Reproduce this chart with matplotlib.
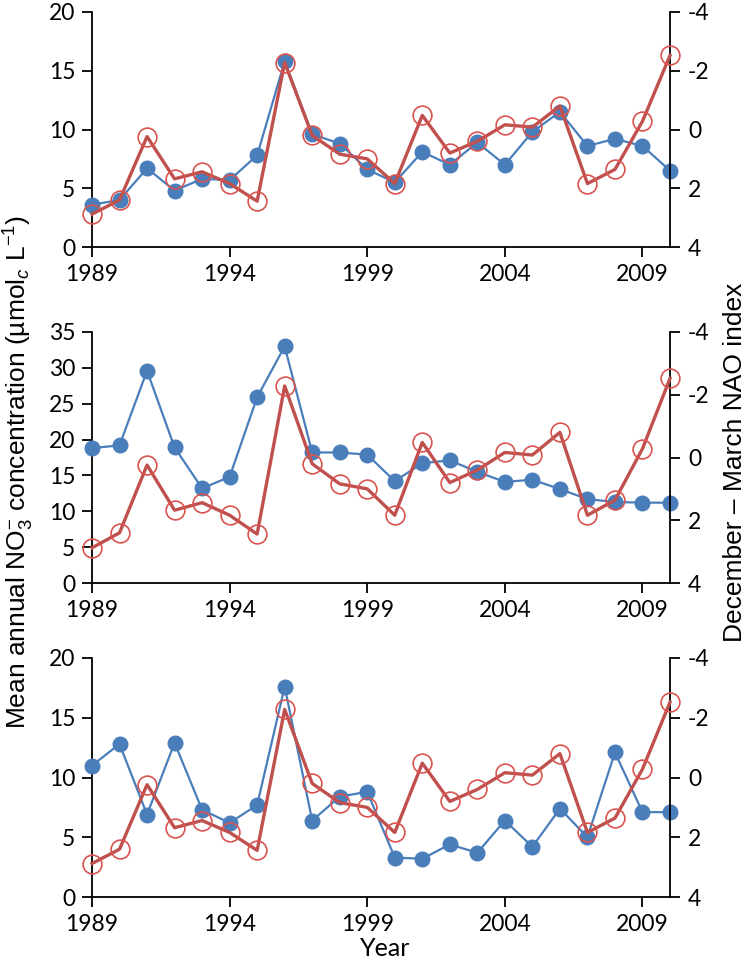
import matplotlib
matplotlib.use("Agg")
import matplotlib.pyplot as plt
from matplotlib.ticker import FixedLocator

plt.rcParams['axes.unicode_minus'] = False
plt.rcParams['mathtext.fontset'] = 'custom'
plt.rcParams['mathtext.rm'] = 'Liberation Sans'
plt.rcParams['mathtext.it'] = 'Liberation Sans:italic'

years = list(range(1989, 2011))

# December-March NAO index (plotted on inverted right axis)
nao = [2.88, 2.40, 0.24, 1.68, 1.44, 1.84, 2.44, -2.28, 0.20, 0.84, 1.00,
       1.84, -0.48, 0.80, 0.40, -0.16, -0.08, -0.80, 1.84, 1.36, -0.28, -2.52]

# Mean annual NO3- concentration for three sites
no3_a = [3.6, 4.0, 6.7, 4.8, 5.8, 5.7, 7.8, 15.8, 9.6, 8.8, 6.6,
         5.5, 8.1, 7.0, 8.9, 7.0, 9.8, 11.5, 8.6, 9.2, 8.6, 6.5]
no3_b = [18.8, 19.2, 29.6, 18.9, 13.2, 14.8, 25.9, 33.0, 18.2, 18.2, 17.9,
         14.2, 16.7, 17.1, 15.5, 14.1, 14.4, 13.1, 11.7, 11.3, 11.2, 11.2]
no3_c = [11.0, 12.8, 6.9, 12.9, 7.3, 6.2, 7.7, 17.6, 6.4, 8.4, 8.8,
         3.3, 3.2, 4.4, 3.7, 6.4, 4.2, 7.4, 5.0, 12.1, 7.1, 7.1]

left_max = [20, 35, 20]
left_step = [5, 5, 5]
xticks = [1989, 1994, 1999, 2004, 2009]
nao_ticks = [-4, -2, 0, 2, 4]

W, H = 750, 965
fig = plt.figure(figsize=(W / 100, H / 100), dpi=100)

# panel boxes in pixels: (top, bottom)
boxes = [(12, 247), (332, 583), (658, 897)]
x_left, x_right = 92, 670

blue = '#4A7EBB'
red = '#C0504D'
TS = 16.5

for (top, bot), data, ymax, step in zip(boxes, [no3_a, no3_b, no3_c], left_max, left_step):
    ax = fig.add_axes([x_left / W, 1 - bot / H, (x_right - x_left) / W, (bot - top) / H])
    ax.plot(years, data, color=blue, lw=1.6, marker='o', ms=10.5, mfc=blue, mec=blue, zorder=3)
    ax.set_xlim(1989, 2010)
    ax.set_ylim(0, ymax)
    ax.yaxis.set_major_locator(FixedLocator(list(range(0, ymax + 1, step))))
    ax.xaxis.set_major_locator(FixedLocator(xticks))
    ax.spines['top'].set_visible(False)
    ax.spines['right'].set_visible(False)
    for s in ('left', 'bottom'):
        ax.spines[s].set_linewidth(1.3)
    ax.tick_params(axis='both', direction='out', length=7, width=1.3, labelsize=TS, pad=5)
    for lab in ax.get_xticklabels() + ax.get_yticklabels():
        lab.set_fontfamily('Lato')

    ax2 = ax.twinx()
    ax2.plot(years, nao, color=red, lw=2.4, marker='o', ms=13.5, mfc='none',
             mec='#D9534F', mew=1.2, zorder=4)
    ax2.set_ylim(4, -4)
    ax2.yaxis.set_major_locator(FixedLocator(nao_ticks))
    ax2.set_yticklabels([str(t) for t in nao_ticks])
    ax2.spines['top'].set_visible(False)
    ax2.spines['left'].set_visible(False)
    ax2.spines['bottom'].set_visible(False)
    ax2.spines['right'].set_linewidth(1.3)
    ax2.tick_params(axis='y', direction='out', length=7, width=1.3, labelsize=TS, pad=6)
    for lab in ax2.get_yticklabels():
        lab.set_fontfamily('Lato')
    for a in (ax, ax2):
        for ln in a.lines:
            ln.set_clip_on(False)

fig.text(19 / W, 1 - 472 / H,
         'Mean annual NO$_3^{-}$ concentration (\u00b5mol$_c$ L$^{-1}$)',
         rotation=90, ha='center', va='center', fontsize=19, family='Liberation Sans')
fig.text(735 / W, 1 - 462 / H, 'December \u2013 March NAO index',
         rotation=90, ha='center', va='center', fontsize=19, family='Liberation Sans')
fig.text(385 / W, 1 - 948 / H, 'Year', ha='center', va='center', fontsize=18, family='Lato')

fig.savefig('out.png', dpi=100)
